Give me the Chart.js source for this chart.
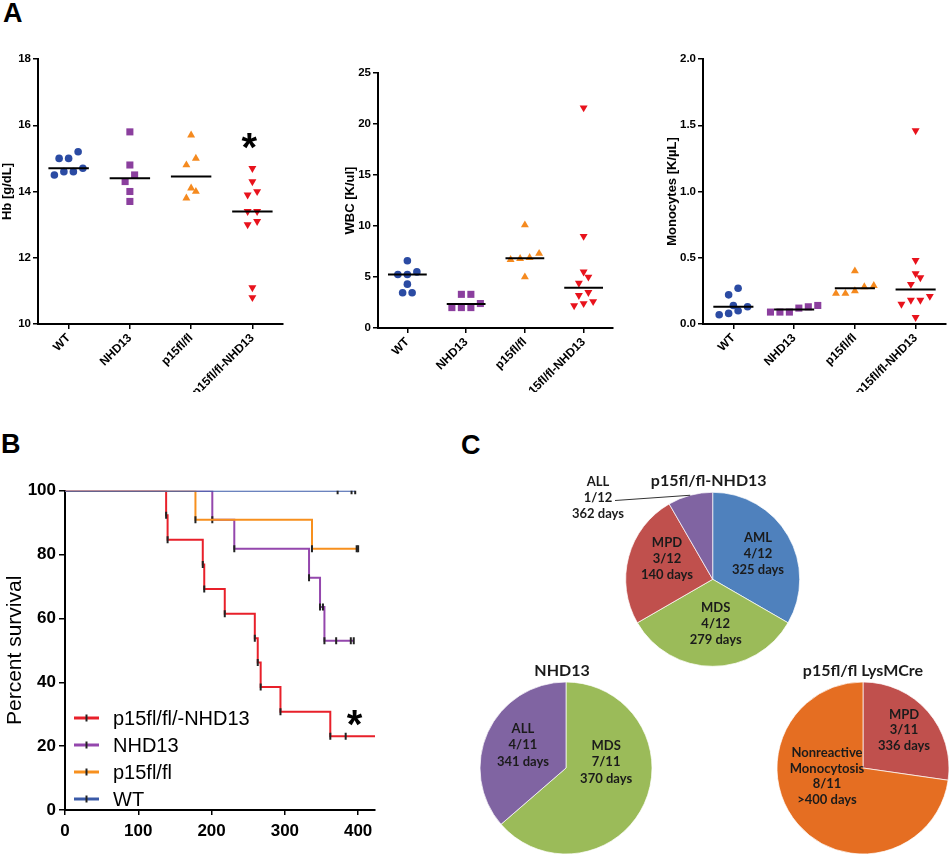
<!DOCTYPE html>
<html>
<head>
<meta charset="utf-8">
<script src="https://cdn.jsdelivr.net/npm/chart.js@4"></script>
<style>
  body { margin: 0; background: #fff; }
  #wrap { position: relative; width: 951px; height: 855px; overflow: hidden; }
  canvas { position: absolute; }
  .lt { position: absolute; font: bold 27px 'Liberation Sans', Arial, sans-serif; line-height: 1; color: #000; }
</style>
</head>
<body>
<div id="wrap">
  <div class="lt" style="left:3px;top:0px">A</div>
  <div class="lt" style="left:1px;top:431px">B</div>
  <div class="lt" style="left:461px;top:432px">C</div>

  <canvas id="hb" style="left:0px;top:40px" width="310" height="352"></canvas>
  <canvas id="wbc" style="left:330px;top:40px" width="300" height="352"></canvas>
  <canvas id="mono" style="left:650px;top:40px" width="301" height="352"></canvas>

  <canvas id="surv" style="left:0px;top:455px" width="420" height="400"></canvas>

  <canvas id="pie1" style="left:565px;top:455px" width="300" height="250"></canvas>
  <canvas id="pie2" style="left:440px;top:650px" width="252" height="205"></canvas>
  <canvas id="pie3" style="left:760px;top:650px" width="191" height="205"></canvas>
</div>

<script>
// ---- data ----
const groups = ['WT', 'NHD13', 'p15fl/fl', 'p15fl/fl-NHD13'];

const hbWT = [15.0, 15.0, 15.2, 14.6, 14.5, 14.6, 14.7];
const hbNHD13 = [15.8, 14.8, 14.5, 14.3, 14.0, 13.7];
const hbP15 = [15.7, 15.0, 14.8, 14.1, 14.0, 13.8];
const hbP15NHD13 = [14.7, 14.3, 14.0, 13.9, 13.4, 13.4, 13.1, 13.0, 11.1, 10.8];
const hbMedian = [14.7, 14.4, 14.45, 13.4];

const wbcWT = [6.6, 5.5, 5.25, 5.25, 4.3, 3.45, 3.45];
const wbcNHD13 = [3.3, 3.3, 2.4, 2.0, 2.0, 2.0];
const wbcP15 = [10.1, 7.3, 6.9, 6.8, 6.7, 5.0];
const wbcP15NHD13 = [21.6, 9.0, 5.5, 5.0, 4.4, 3.5, 3.2, 2.6, 2.4, 2.2];
const wbcMedian = [5.25, 2.35, 6.85, 3.95];

const monoWT = [0.27, 0.22, 0.14, 0.13, 0.10, 0.08, 0.07];
const monoNHD13 = [0.14, 0.13, 0.12, 0.09, 0.09, 0.09];
const monoP15 = [0.40, 0.29, 0.28, 0.25, 0.23, 0.23];
const monoP15NHD13 = [1.46, 0.48, 0.38, 0.35, 0.30, 0.21, 0.18, 0.18, 0.15, 0.05];
const monoMedian = [0.13, 0.11, 0.27, 0.26];

// Kaplan-Meier curves (days, percent survival)
const survLabels = ['p15fl/fl/-NHD13', 'NHD13', 'p15fl/fl', 'WT'];
const redDays = [0, 138, 140, 188, 190, 218, 259, 263, 267, 294, 362, 383, 428];
const redPct = [100, 92.3, 84.6, 76.9, 69.2, 61.5, 53.8, 46.2, 38.5, 30.8, 23.1, 23.1, 23.1];
const purpleDays = [0, 201, 231, 333, 348, 352, 354, 370, 390, 394];
const purplePct = [100, 90.9, 81.8, 72.7, 63.6, 63.6, 53.0, 53.0, 53.0, 53.0];
const orangeDays = [0, 178, 337, 398, 400];
const orangePct = [100, 90.9, 81.8, 81.8, 81.8];
const blueDays = [0, 372, 391, 396];
const bluePct = [100, 100, 100, 100];

// disease outcome pies
const pie1Types = ['AML', 'MDS', 'MPD', 'ALL'];
const pie1Counts = [4, 4, 3, 1];
const pie1Days = ['325 days', '279 days', '140 days', '362 days'];
const pie2Types = ['MDS', 'ALL'];
const pie2Counts = [7, 4];
const pie2Days = ['370 days', '341 days'];
const pie3Types = ['MPD', 'Nonreactive\nMonocytosis'];
const pie3Counts = [3, 8];
const pie3Days = ['336 days', '>400 days'];

// ---- styling ----
Chart.defaults.font.family = "'Liberation Sans', Arial, sans-serif";
Chart.defaults.color = '#000';
Chart.defaults.animation = false;
Chart.defaults.events = [];
Chart.defaults.plugins.legend.display = false;
Chart.defaults.plugins.tooltip.enabled = false;

const markerColor = ['#2b4ba3', '#8b3f9e', '#f58a1f', '#e8121c'];
const markerStyle = ['circle', 'rect', 'triangle', 'triangle'];
const markerRot = [0, 0, 0, 180];
const markerSize = [3.8, 5, 4.6, 4.6];

// spread points of one group side by side when they would overlap (like a dot plot)
function swarm(values, idx, pxPerY, catPx) {
  const order = values.map((v, i) => i).sort((a, b) => values[a] - values[b]);
  const rows = [];
  order.forEach(i => {
    const row = rows[rows.length - 1];
    if (row && (values[i] - values[row[0]]) * pxPerY <= 8.05) row.push(i);
    else rows.push([i]);
  });
  const step = 9.5 / catPx;
  const pts = [];
  rows.forEach(r => r.forEach((i, j) => pts.push({ x: idx + (j - (r.length - 1) / 2) * step, y: values[i] })));
  return pts;
}

const starPlugin = {
  id: 'stars',
  afterDatasetsDraw(chart, args, opts) {
    const ctx = chart.ctx;
    ctx.save();
    ctx.fillStyle = '#000';
    ctx.textAlign = 'center';
    ctx.textBaseline = 'alphabetic';
    ctx.font = "bold 40px 'Liberation Sans', Arial, sans-serif";
    (opts.items || []).forEach(s => {
      const px = chart.scales.x.getPixelForValue(s.x);
      const py = chart.scales.y.getPixelForValue(s.y);
      ctx.fillText('*', px, py + 22);
    });
    ctx.restore();
  }
};

function axisGrid() {
  return { drawOnChartArea: false, drawTicks: true, tickLength: 5, color: '#000', lineWidth: 1.5 };
}

function panelA(id, series, medians, yMin, yMax, yStep, title, box, fmt) {
  const plotH = box.h - box.top - box.xAxis;
  const pxPerY = plotH / (yMax - yMin);
  const catPx = (box.w - box.yAxis - box.right) / groups.length;
  const datasets = [];
  medians.forEach((m, i) => datasets.push({
    type: 'line', data: [{ x: i - 0.33, y: m }, { x: i + 0.33, y: m }],
    borderColor: '#000', borderWidth: 2, pointRadius: 0
  }));
  series.forEach((vals, i) => datasets.push({
    type: 'scatter', data: swarm(vals, i, pxPerY, catPx),
    pointStyle: markerStyle[i], rotation: markerRot[i], pointRadius: markerSize[i],
    backgroundColor: markerColor[i], borderColor: markerColor[i], borderWidth: 0
  }));
  new Chart(document.getElementById(id), {
    type: 'scatter',
    data: { datasets },
    plugins: [starPlugin],
    options: {
      responsive: false,
      layout: { padding: { left: 0, top: box.top, right: box.right, bottom: 0 } },
      plugins: { stars: { items: box.stars || [] } },
      scales: {
        x: {
          type: 'linear', min: -0.5, max: 3.5,
          afterBuildTicks: s => { s.ticks = groups.map((g, i) => ({ value: i })); },
          ticks: {
            callback: v => groups[v], minRotation: 45, maxRotation: 45, autoSkip: false,
            padding: 2, font: { size: 12, weight: 'bold' }, color: '#000'
          },
          grid: axisGrid(),
          border: { color: '#000', width: 2 },
          afterFit: s => { s.height = box.xAxis; }
        },
        y: {
          min: yMin, max: yMax,
          ticks: { stepSize: yStep, padding: 2, font: { size: 11.5, weight: 'bold' }, color: '#000', callback: fmt },
          grid: axisGrid(),
          border: { color: '#000', width: 2 },
          title: { display: true, text: title, font: { size: 13, weight: 'bold' }, color: '#000', padding: { top: box.titlePad, bottom: 0 } },
          afterFit: s => { s.width = box.yAxis; }
        }
      }
    }
  });
}

panelA('hb', [hbWT, hbNHD13, hbP15, hbP15NHD13], hbMedian, 10, 18, 2, 'Hb [g/dL]',
  { w: 310, h: 352, yAxis: 38, top: 19, xAxis: 68, right: 27, titlePad: 0, stars: [{ x: 2.95, y: 15.6 }] },
  v => v);
panelA('wbc', [wbcWT, wbcNHD13, wbcP15, wbcP15NHD13], wbcMedian, 0, 25, 5, 'WBC [K/ul]',
  { w: 300, h: 352, yAxis: 48, top: 33, xAxis: 64, right: 17, titlePad: 12.7 },
  v => v);
panelA('mono', [monoWT, monoNHD13, monoP15, monoP15NHD13], monoMedian, 0, 2, 0.5, 'Monocytes [K/\u00b5L]',
  { w: 301, h: 352, yAxis: 53, top: 19, xAxis: 68, right: 4, titlePad: 14.7 },
  v => v.toFixed(1));

// ---- panel B: survival ----
const survColors = ['#e8202a', '#9447ad', '#f7901e', '#3a5aa8'];
function kmSet(i, days, pct, order) {
  return {
    label: survLabels[i],
    data: days.map((d, k) => ({ x: d, y: pct[k] })),
    stepped: true, fill: false, order,
    borderColor: survColors[i], backgroundColor: survColors[i], borderWidth: 2,
    pointStyle: 'line', pointRotation: 90,
    pointRadius: ctx => (ctx.dataIndex === 0 ? 0 : 3.5),
    pointBorderColor: '#222', pointBorderWidth: 2
  };
}

const survLegend = {
  id: 'survLegend',
  afterDraw(chart) {
    const ctx = chart.ctx, a = chart.chartArea;
    ctx.save();
    ctx.font = "20px 'Liberation Sans', Arial, sans-serif";
    ctx.textBaseline = 'middle';
    ctx.textAlign = 'left';
    chart.data.datasets.forEach((ds, i) => {
      const y = a.bottom - 92 + i * 27;
      const x0 = a.left + 9, x1 = a.left + 34;
      ctx.strokeStyle = ds.borderColor; ctx.lineWidth = 3;
      ctx.beginPath(); ctx.moveTo(x0, y); ctx.lineTo(x1, y); ctx.stroke();
      ctx.strokeStyle = '#222'; ctx.lineWidth = 2;
      ctx.beginPath(); ctx.moveTo((x0 + x1) / 2, y - 3.5); ctx.lineTo((x0 + x1) / 2, y + 3.5); ctx.stroke();
      ctx.fillStyle = '#000';
      ctx.fillText(ds.label, a.left + 48, y + 1);
    });
    ctx.restore();
  }
};

new Chart(document.getElementById('surv'), {
  type: 'line',
  data: {
    datasets: [
      kmSet(0, redDays, redPct, 3),
      kmSet(1, purpleDays, purplePct, 2),
      kmSet(2, orangeDays, orangePct, 1),
      kmSet(3, blueDays, bluePct, 0)
    ]
  },
  plugins: [survLegend, starPlugin],
  options: {
    responsive: false,
    layout: { padding: { left: 0, top: 35.7, right: 45, bottom: 0 } },
    plugins: { stars: { items: [{ x: 395, y: 29.5 }] } },
    scales: {
      x: {
        type: 'linear', min: 0, max: 423,
        ticks: { stepSize: 100, includeBounds: false, padding: 6, font: { size: 17, weight: 'bold' }, color: '#000' },
        grid: axisGrid(),
        border: { color: '#000', width: 2 },
        afterFit: s => { s.height = 45; }
      },
      y: {
        min: 0, max: 100,
        ticks: { stepSize: 20, padding: 3, font: { size: 17, weight: 'bold' }, color: '#000' },
        grid: Object.assign(axisGrid(), { tickLength: 6 }),
        border: { color: '#000', width: 2 },
        title: { display: true, text: 'Percent survival', font: { size: 21 }, color: '#000', padding: { top: 2.4, bottom: 0 } },
        afterFit: s => { s.width = 65; }
      }
    }
  }
});

// ---- panel C: pies ----
const pieText = {
  id: 'pieText',
  afterDatasetsDraw(chart, args, o) {
    const ctx = chart.ctx;
    const meta = chart.getDatasetMeta(0);
    const first = meta.data[0];
    const cx = first.x, cy = first.y, r = first.outerRadius;
    const counts = chart.data.datasets[0].data;
    const total = counts.reduce((s, v) => s + v, 0);
    ctx.save();
    ctx.fillStyle = '#1b1b1b';
    ctx.textAlign = 'center';
    ctx.textBaseline = 'middle';
    ctx.font = "bold 16px Lato, 'Open Sans', sans-serif";
    ctx.fillText(o.title, cx + o.titleDx, cy - r - 11);
    ctx.font = "bold 13px Lato, 'Open Sans', sans-serif";
    meta.data.forEach((arc, i) => {
      const lines = o.types[i].split('\n').concat([counts[i] + '/' + total, o.days[i]]);
      let x, y;
      if (o.outside && o.outside.index === i) {
        x = cx + o.outside.dx; y = cy + o.outside.dy;
        const mid = (arc.startAngle + arc.endAngle) / 2;
        ctx.strokeStyle = '#333'; ctx.lineWidth = 1;
        ctx.beginPath();
        ctx.moveTo(x + 17, y + 3);
        ctx.lineTo(cx + r * Math.cos(mid), cy + r * Math.sin(mid));
        ctx.stroke();
      } else {
        const p = arc.tooltipPosition(true);
        x = p.x + o.nudge[i][0]; y = p.y + o.nudge[i][1];
      }
      lines.forEach((t, k) => ctx.fillText(t, x, y + (k - (lines.length - 1) / 2) * o.lh));
    });
    ctx.restore();
  }
};

function pie(id, types, counts, days, colors, radius, pad, text) {
  new Chart(document.getElementById(id), {
    type: 'pie',
    data: {
      labels: types,
      datasets: [{ data: counts, backgroundColor: colors, borderColor: 'rgba(255,255,255,0.7)', borderWidth: 1, hoverOffset: 0 }]
    },
    plugins: [pieText],
    options: {
      responsive: false,
      radius: radius,
      layout: { padding: pad },
      plugins: { pieText: Object.assign({ types, days }, text) }
    }
  });
}

pie('pie1', pie1Types, pie1Counts, pie1Days, ['#4f81bd', '#9bbb59', '#c0504d', '#8064a2'], 87,
  { left: 0, right: 4.6, top: 0, bottom: 1.4 },
  { title: 'p15fl/fl-NHD13', titleDx: -4, lh: 16, nudge: [[7.6, -4], [3, 1], [-3.7, -9.3], [0, 0]],
    outside: { index: 3, dx: -114.7, dy: -81.8 } });
pie('pie2', pie2Types, pie2Counts, pie2Days, ['#9bbb59', '#8064a2'], 86,
  { left: 0, right: 0, top: 31, bottom: 0 },
  { title: 'NHD13', titleDx: -4, lh: 16.5, nudge: [[1, -24], [-4, -5]] });
pie('pie3', pie3Types, pie3Counts, pie3Days, ['#c0504d', '#e56e22'], 86,
  { left: 15, right: 0, top: 31, bottom: 0 },
  { title: 'p15fl/fl LysMCre', titleDx: 0, lh: 15.5, nudge: [[8.5, -10], [-3.5, -20]] });
</script>
</body>
</html>
